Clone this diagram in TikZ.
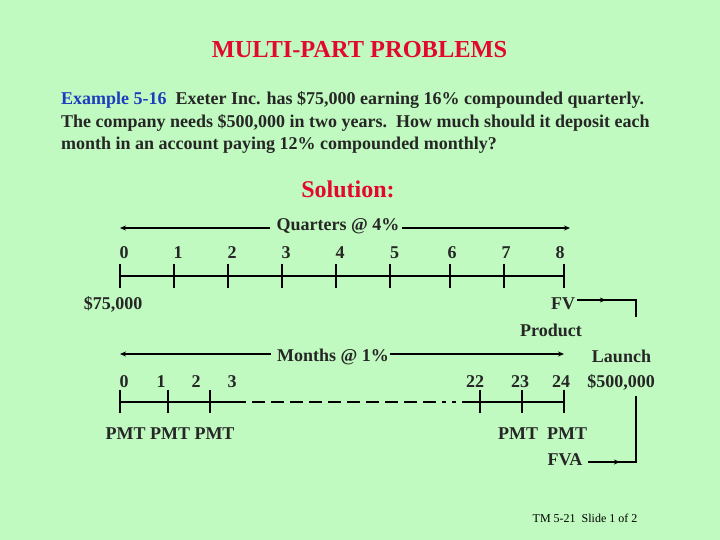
\documentclass[tikz,border=0pt]{standalone}
\usepackage{fontspec}
\setmainfont{Liberation Serif}
\usetikzlibrary{arrows.meta,decorations.markings}
\definecolor{bgc}{RGB}{192,250,192}
\definecolor{ttl}{RGB}{226,8,48}
\definecolor{exb}{RGB}{30,60,190}
\tikzset{
 lbl/.style={inner sep=0pt,font=\fontsize{18}{20}\selectfont\bfseries,text=black!85},
 bodyline/.style={inner sep=0pt,anchor=base west,font=\fontsize{18}{20}\selectfont\bfseries,text=black!85},
 rule/.style={line width=1.4pt,black},
 tick/.style={line width=1.4pt,black},
 arr/.style={line width=1.4pt,black,-{Stealth[length=6pt,width=5pt]}},
 midarr/.style={line width=1.4pt,black,postaction={decorate},decoration={markings,mark=at position #1 with {\arrow{Stealth[length=6pt,width=5pt]}}}}
}
\begin{document}
\begin{tikzpicture}[x=1pt,y=-1pt]
\useasboundingbox (0,0) rectangle (720,540);
\fill[bgc] (0,0) rectangle (720,540);
\node[inner sep=0pt,text=ttl,font=\fontsize{24.4}{26}\selectfont\bfseries] (title) at (359.5,50) {MULTI-PART PROBLEMS};
\node[bodyline] (l1) at (61,105) {\textcolor{exb}{Example 5-16}\ \ Exeter Inc. has \$75,000 earning 16\% compounded quarterly.};
\node[bodyline] (l2) at (61,128) {The company needs \$500,000 in two years.\ \ How much should it deposit each};
\node[bodyline] (l3) at (61,149.5) {month in an account paying 12\% compounded monthly?};
\node[inner sep=0pt,text=ttl,font=\fontsize{24}{26}\selectfont\bfseries] (sol) at (348,189.5) {Solution:};
% Quarters
\node[lbl] (q) at (338,226) {Quarters @ 4\%};
\coordinate (qL) at (120,228); \coordinate (qR) at (570,228);
\draw[arr] (q.west |- qL) ++(-6,0) -- (qL);
\draw[arr] (q.east |- qR) ++(2,0) -- (qR);
\foreach \n/\x/\lx/\t in {a0/120/124/0,a1/174/178/1,a2/228/232/2,a3/282/286/3,a4/336/340/4,a5/390/394.5/5,a6/450/452/6,a7/504/506/7,a8/564/560/8}{
  \coordinate (\n) at (\x,276);
  \draw[tick] (\x,264) -- (\x,288);
  \node[lbl] at (\lx,253) {\t};
}
\draw[rule] (a0) -- (a8);
\node[lbl] (pv) at (113,304) {\$75,000};
\node[lbl] (fv) at (563,304) {FV};
\node[lbl] (prod) at (551,330) {Product};
\coordinate (c1) at (636,300); \coordinate (c1b) at (636,317);
\draw[midarr=0.38] (577,300) -- (c1) -- (c1b);
% Months
\node[lbl] (m) at (333,357) {Months @ 1\%};
\coordinate (mL) at (120,354); \coordinate (mR) at (564,354);
\draw[arr] (m.west |- mL) ++(-6,0) -- (mL);
\draw[arr] (m.east |- mR) ++(1,0) -- (mR);
\foreach \n/\x in {b0/120,b1/168,b2/210,b22/480,b23/522,b24/564}{
  \coordinate (\n) at (\x,402);
  \draw[tick] (\x,390) -- (\x,413);
}
\coordinate (bs) at (246,402); \coordinate (be) at (462,402);
\draw[rule] (b0) -- (bs);
\draw[rule] (be) -- (b24);
\draw[line width=1.4pt,dash pattern=on 13pt off 6pt] (252,402) -- (446,402);
\draw[line width=1.4pt] (452,402) -- (456,402);
\foreach \x/\t in {124/0,161/1,196/2,232/3,475/22,520/23,561/24}{
  \node[lbl] at (\x,382) {\t};
}
\node[lbl] (launch) at (621.5,356) {Launch};
\node[lbl] (goal) at (621,382) {\$500,000};
\node[lbl] at (170,434) {PMT PMT PMT};
\node[lbl] (pm1) at (518,434) {PMT};
\node[lbl] (pm2) at (567,434) {PMT};
\node[lbl] (fva) at (565,460) {FVA};
\coordinate (c2) at (636,462); \coordinate (c2b) at (636,396);
\draw[midarr=0.28] (588,462) -- (c2) -- (c2b);
\node[inner sep=0pt,text=black,font=\fontsize{12}{14}\selectfont] (foot) at (585,518) {TM 5-21\ \ Slide 1 of 2};
\end{tikzpicture}
\end{document}
